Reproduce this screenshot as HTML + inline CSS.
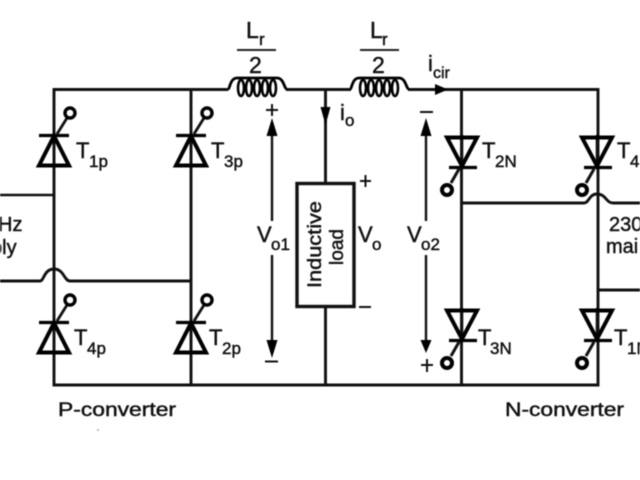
<!DOCTYPE html>
<html><head><meta charset="utf-8"><style>
html,body{margin:0;padding:0;background:#fff;width:640px;height:480px;overflow:hidden}
svg{display:block;filter:blur(0.5px)}
text{font-family:"Liberation Sans",sans-serif;fill:#111;stroke:#111;stroke-width:.45px}
.t{font-size:22px}.s{font-size:17px}
.l{font-size:19px}
</style></head><body>
<svg width="640" height="480" viewBox="0 0 640 480">
<defs>
<g id="p">
<path d="M0 -15V17" stroke="#111" stroke-width="2.6" fill="none"/>
<path d="M-15 -15.500H15" stroke="#000" stroke-width="3.2" fill="none"/>
<path d="M0 -15L-15 14.500H15Z" stroke="#000" stroke-width="4" fill="none" stroke-linejoin="miter"/>
<path d="M3 -17L13 -33" stroke="#111" stroke-width="2.800" fill="none"/>
<circle cx="16" cy="-38" r="5" stroke="#000" stroke-width="3.400" fill="#fff"/>
</g>
<g id="n">
<path d="M0 -17V15" stroke="#111" stroke-width="2.6" fill="none"/>
<path d="M-13 15.500H15" stroke="#000" stroke-width="3.2" fill="none"/>
<path d="M0 14L-15 -14.500H15Z" stroke="#000" stroke-width="4" fill="none"/>
<path d="M-3 17L-11 31" stroke="#111" stroke-width="3" fill="none"/>
<circle cx="-15" cy="38" r="5" stroke="#000" stroke-width="4" fill="#fff"/>
</g>
<g id="coil" fill="none" stroke="#000">
<path d="M0 12C2 12 2 1 9 1H49C56 1 56 12 59 12" stroke-width="2.800"/>
<ellipse cx="13" cy="11" rx="3" ry="8" stroke-width="2.600"/>
<ellipse cx="21" cy="11" rx="3" ry="8" stroke-width="2.600"/>
<ellipse cx="29" cy="11" rx="3" ry="8" stroke-width="2.600"/>
<ellipse cx="37" cy="11" rx="3" ry="8" stroke-width="2.600"/>
<ellipse cx="45" cy="11" rx="3" ry="8" stroke-width="2.600"/>
</g>
</defs>

<g fill="none" stroke="#111" stroke-width="2.900">
<path d="M228 89.5H54V385H598V89.5H408M286 89.5H351"/>
<path d="M191 89.5V385M461.500 89.5V385"/>
<path d="M325.500 89.500V183M325.500 307V385"/>
<path d="M0 195H54" stroke-width="2.400"/>
<path d="M0 281H40C44 281 44 269 54 269C64 269 64 281 70 281H191"/>
<path d="M461.500 203H584C589 203 589 194 597 194C606 194 606 203 613 203H640"/>
<path d="M598 290H640"/>
<rect x="297" y="183.500" width="57" height="123" stroke-width="3.400" fill="#fff"/>
</g>

<use href="#coil" x="228" y="77"/>
<use href="#coil" x="350" y="77"/>

<use href="#p" x="54" y="151"/>
<use href="#p" x="191" y="151"/>
<use href="#p" x="54" y="338"/>
<use href="#p" x="191" y="338"/>
<use href="#n" x="462" y="152"/>
<use href="#n" x="597" y="152"/>
<use href="#n" x="462" y="325"/>
<use href="#n" x="597" y="325"/>

<!-- voltage arrows -->
<g stroke="#111" stroke-width="2.400" fill="none">
<path d="M272 125V221M272 255V345"/>
<path d="M426 125V221M426 255V345"/>
<path d="M266 110H278M272 104V116M265 361.500H278M420 112H433M421 365H433M427 359V372M360 181H371M365.500 175V187M359 307H371" stroke-width="2"/>
</g>
<g fill="#000" stroke="none">
<path d="M272 118L266.500 136H277.500Z"/>
<path d="M272 358L266.500 340H277.500Z"/>
<path d="M426 118L420.500 136H431.500Z"/>
<path d="M426 353L420.500 340H431.500Z"/>
<path d="M325.500 125L320.500 107H330.500Z"/>
<path d="M448 89.500L435 84V95Z"/>
</g>
<path d="M237 50H276M360 50H399" stroke="#222" stroke-width="2"/>

<!-- labels -->
<text class="t" x="246" y="38" style="font-size:23px">L</text><text class="s" x="259" y="45">r</text>
<text class="t" x="249" y="73" style="font-size:23px">2</text>
<text class="t" x="370" y="38" style="font-size:23px">L</text><text class="s" x="382" y="45">r</text>
<text class="t" x="372" y="73" style="font-size:23px">2</text>
<text class="t" x="428" y="71">i</text><text class="s" x="433" y="78" style="font-size:16px">cir</text>
<text class="t" x="340" y="120">i</text><text class="s" x="345" y="126">o</text>

<text class="t" x="76" y="158">T</text><text class="s" x="89" y="167">1p</text>
<text class="t" x="211" y="158">T</text><text class="s" x="224" y="167">3p</text>
<text class="t" x="74" y="345">T</text><text class="s" x="87" y="354">4p</text>
<text class="t" x="209" y="345">T</text><text class="s" x="222" y="354">2p</text>
<text class="t" x="482" y="158">T</text><text class="s" x="495" y="167">2N</text>
<text class="t" x="617" y="158">T</text><text class="s" x="630" y="167">4</text>
<text class="t" x="478" y="345">T</text><text class="s" x="490" y="354">3N</text>
<text class="t" x="614" y="345">T</text><text class="s" x="627" y="354">1N</text>

<text class="t" x="257" y="242">V</text><text class="s" x="271" y="250">o1</text>
<text class="t" x="358" y="242">V</text><text class="s" x="372" y="250">o</text>
<text class="t" x="407" y="242">V</text><text class="s" x="421" y="250">o2</text>

<text class="l" transform="translate(321,288) rotate(-90)" textLength="87" lengthAdjust="spacingAndGlyphs">Inductive</text>
<text class="l" transform="translate(343,265) rotate(-90)" textLength="36" lengthAdjust="spacingAndGlyphs">load</text>

<text class="l" x="-2" y="231" style="font-size:20px">Hz</text>
<text class="l" x="-9" y="254" style="font-size:20px">ply</text>
<text class="l" x="609" y="231" style="font-size:20px">230</text>
<text class="l" x="606" y="253" style="font-size:20px">mai</text>

<text class="l" x="58" y="416" textLength="118" lengthAdjust="spacingAndGlyphs">P-converter</text>
<text class="l" x="505" y="416" textLength="119" lengthAdjust="spacingAndGlyphs">N-converter</text>
<circle cx="98" cy="430" r="1" fill="#aaa"/>
</svg>
</body></html>
